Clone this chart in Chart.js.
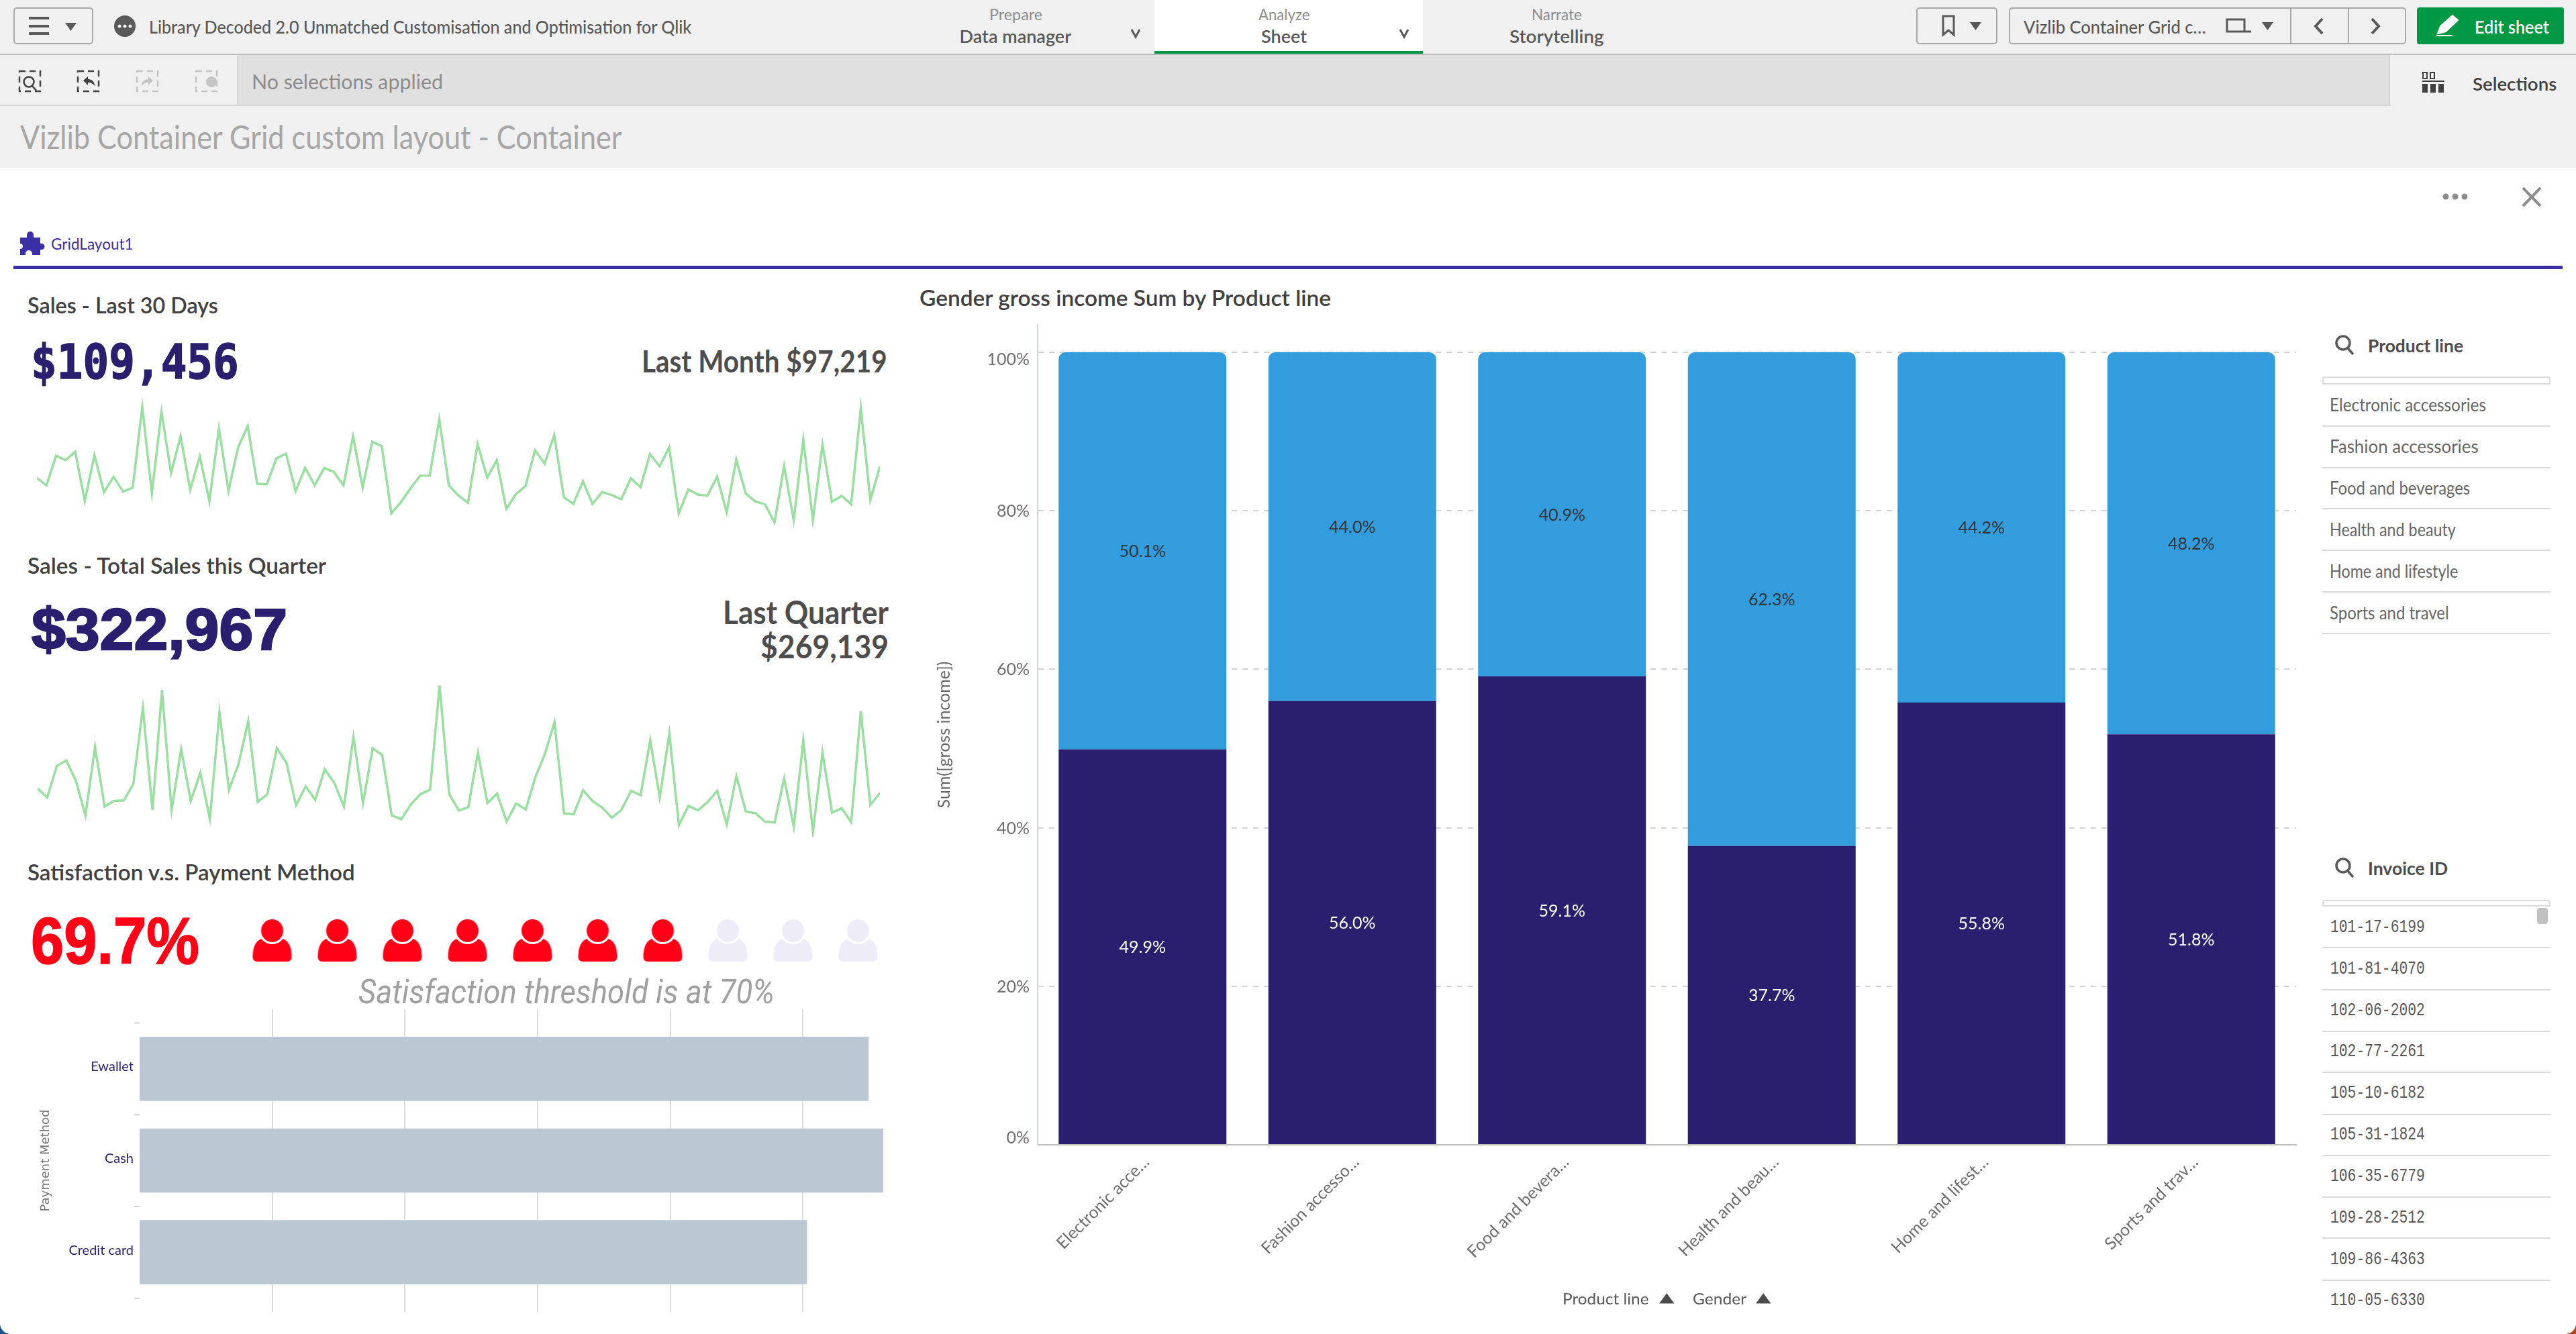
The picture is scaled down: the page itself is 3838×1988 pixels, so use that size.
<!DOCTYPE html>
<html>
<head>
<meta charset="utf-8">
<title>Vizlib Container Grid custom layout - Container</title>
<script src="https://cdn.jsdelivr.net/npm/chart.js@4"></script>
<style>
html, body { margin: 0; padding: 0; width: 3838px; height: 1988px; overflow: hidden; background: #fff; font-family: Lato, sans-serif; }
.box { position: absolute; box-sizing: border-box; }
.txt { position: absolute; white-space: nowrap; line-height: 1; transform-origin: 0 50%; }
canvas { position: absolute; display: block; }
svg { position: absolute; overflow: visible; }
</style>
</head>
<body>

<!-- app chrome -->
<div class="box" style="left:0;top:0;width:3838px;height:250px;background:#f0f0f0"></div>
<div class="box" style="left:0;top:80px;width:3838px;height:2px;background:#bdbdbd"></div>
<div class="box" style="left:1720px;top:0;width:400px;height:80px;background:#fff;border-bottom:4px solid #009845"></div>
<div class="box" style="left:353px;top:82px;width:3208px;height:75px;background:#e0e0e0;border-left:2px solid #d4d4d4;border-right:2px solid #d4d4d4"></div>
<div class="box" style="left:0;top:156px;width:3562px;height:2px;background:#d4d4d4"></div>
<div class="box" style="left:20px;top:11px;width:119px;height:55px;border:2px solid #a8a8a8;border-radius:5px"></div>
<div class="box" style="left:2855px;top:11px;width:121px;height:55px;border:2px solid #a8a8a8;border-radius:5px"></div>
<div class="box" style="left:2993px;top:11px;width:592px;height:55px;border:2px solid #a8a8a8;border-radius:5px"></div>
<div class="box" style="left:3412px;top:11px;width:2px;height:55px;background:#a8a8a8"></div>
<div class="box" style="left:3498px;top:11px;width:2px;height:55px;background:#a8a8a8"></div>
<div class="box" style="left:3601px;top:11px;width:219px;height:55px;background:#009845;border-radius:4px"></div>
<div class="box" style="left:20px;top:396px;width:3798px;height:5px;background:#3a2fa5"></div>

<!-- icons -->
<svg style="left:0;top:0" width="3838" height="400" fill="#595959">
  <rect x="43" y="25" width="30" height="4"/><rect x="43" y="37" width="30" height="4"/><rect x="43" y="48" width="30" height="4"/>
  <path d="M97 34h17l-8.500 12z"/>
  <circle cx="186" cy="39" r="16"/><circle cx="178" cy="39" r="2.500" fill="#f0f0f0"/><circle cx="186" cy="39" r="2.500" fill="#f0f0f0"/><circle cx="194" cy="39" r="2.500" fill="#f0f0f0"/>
  <path d="M1686 44l6 11 6-11M2086 44l6 11 6-11" fill="none" stroke="#595959" stroke-width="3"/>
  <path d="M2895 24h16v28l-8-7-8 7z" fill="none" stroke="#595959" stroke-width="3"/>
  <path d="M2935 33h17l-8.500 12zM3370 33h17l-8.500 12z"/>
  <path d="M3318 47V29h26v18zM3318 47h36" fill="none" stroke="#595959" stroke-width="3"/>
  <path d="M3460 28l-10 11 10 11M3534 28l10 11-10 11" fill="none" stroke="#595959" stroke-width="4"/>
  <path d="M3632 50l4-11 18-16 8 7-18 17zM3630 53h24" fill="#fff" stroke="#fff" stroke-width="2"/>
  <g fill="none" stroke="#404040" stroke-width="2.500" stroke-dasharray="9 6">
    <rect x="29" y="106" width="31" height="30"/><rect x="116" y="106" width="31" height="30"/>
  </g>
  <g fill="none" stroke="#c4c4c4" stroke-width="2.500" stroke-dasharray="9 6">
    <rect x="204" y="106" width="31" height="30"/><rect x="292" y="106" width="31" height="30"/>
  </g>
  <circle cx="43" cy="122" r="7.500" fill="none" stroke="#404040" stroke-width="2.500"/><path d="M48 128l6 7" stroke="#404040" stroke-width="2.500"/>
  <path d="M124 120l7-6v4c6 0 10 4 10 10-3-4-6-5-10-5v4z" fill="#404040"/>
  <path d="M228 120l-7-6v4c-6 0-10 4-10 10 3-4 6-5 10-5v4z" fill="#c4c4c4"/>
  <circle cx="315" cy="122" r="8" fill="#c4c4c4"/>
  <path d="M3610 108h6v9h-6zM3621 108h6v9h-6z" fill="none" stroke="#404040" stroke-width="2"/>
  <path d="M3609 120h33v2h-33zM3609 125h8v13h-8zM3621 125h8v13h-8zM3633 125h8v13h-8z" fill="#404040"/>
  <circle cx="3644" cy="293" r="4.500" fill="#8c8c8c"/><circle cx="3658" cy="293" r="4.500" fill="#8c8c8c"/><circle cx="3672" cy="293" r="4.500" fill="#8c8c8c"/>
  <path d="M3759 280l26 27M3785 280l-26 27" stroke="#8c8c8c" stroke-width="4"/>
  <path d="M30 354h10v-4a5 5 0 0 1 10 0v4h10v9h2a4.500 4.500 0 0 1 0 9h-2v8H48v-2a5 5 0 0 0-10 0v2h-8v-9a4 4 0 0 0 0-8z" fill="#3a2fa5"/>
</svg>
<svg style="left:0;top:0" width="3838" height="1988" fill="none" stroke="#595959" stroke-width="3.500">
  <circle cx="3491" cy="511" r="10"/><path d="M3498 519l8 9"/>
  <circle cx="3491" cy="1290" r="10"/><path d="M3498 1298l8 9"/>
</svg>

<!-- filter panes -->
<div class="box" style="left:3460px;top:561px;width:340px;height:12px;border:2px solid #dcdcdc;border-radius:4px 4px 0 0"></div>
<div class="box" style="left:3460px;top:1341px;width:340px;height:10px;border:2px solid #dcdcdc;border-radius:4px 4px 0 0"></div>
<div class="box" style="left:3780px;top:1353px;width:16px;height:24px;background:#c0c0c0;border-radius:4px"></div>

<!-- charts -->
<canvas id="salesMonthChart" style="left:55px;top:590px" width="1256" height="200"></canvas>
<canvas id="salesQuarterChart" style="left:56px;top:1013px" width="1255" height="234"></canvas>
<canvas id="pictogramChart" style="left:357px;top:1360px" width="970" height="84"></canvas>
<canvas id="paymentChart" style="left:40px;top:1504px" width="1290" height="451"></canvas>
<canvas id="genderChart" style="left:1380px;top:480px" width="2045" height="1480"></canvas>

<!-- window corners -->
<div class="box" style="left:0;top:1972px;width:16px;height:16px;background:radial-gradient(circle at 100% 0,#fff 15.500px,#1f5590 16.500px)"></div>
<div class="box" style="left:3822px;top:1972px;width:16px;height:16px;background:radial-gradient(circle at 0 0,#fff 15.500px,#b5451f 16.500px)"></div>

<script>
// ================================
// Data
// ================================

const salesMonthValues = [
    2330, 2000, 3320, 3130, 3500, 1300, 3350, 1700, 2380, 1720, 1900, 5500, 1650, 5300, 2550, 4200,
    1800, 3300, 1300, 4550, 1750, 3700, 4650, 2070, 2050, 3200, 3420, 1750, 2780, 2000, 2780, 2600,
    2000, 4200, 1900, 3950, 3750, 750, 1250, 1870, 2430, 2440, 4950, 2000, 1550, 1220, 3850, 2350,
    3120, 950, 1600, 1970, 3570, 2970, 4250, 1470, 1170, 2180, 1170, 1700, 1570, 1380, 2320, 1920,
    3400, 2850, 3700, 750, 1820, 1590, 1540, 2380, 800, 3150, 1630, 1280, 1150, 350, 2850, 450,
    4050, 450, 3820, 1270, 1530, 1150, 5450, 1350, 2840
];

const salesQuarterValues = [
    2150, 1750, 3150, 3400, 2500, 950, 4000, 1350, 1600, 1620, 2350, 5750, 1200, 6550, 1200, 3900,
    1600, 2850, 800, 5550, 2100, 3250, 5150, 1550, 1900, 3950, 3300, 1400, 2250, 1650, 3000, 2400,
    1350, 4450, 1500, 3950, 3650, 950, 780, 1450, 1900, 2100, 6750, 1900, 1170, 1320, 3750, 1500,
    1920, 680, 1480, 1220, 2650, 3700, 5100, 1050, 1000, 2070, 1580, 1300, 850, 1200, 2050, 1850,
    4300, 1750, 4600, 520, 1380, 1180, 1550, 2050, 550, 2700, 1120, 1050, 670, 640, 2600, 450,
    4300, 220, 3750, 1080, 1270, 650, 5600, 1420, 1950
];

const productLines = ["Electronic accessories", "Fashion accessories", "Food and beverages", "Health and beauty", "Home and lifestyle", "Sports and travel"];
const productTicks = ["Electronic acce…", "Fashion accesso…", "Food and bevera…", "Health and beau…", "Home and lifest…", "Sports and trav…"];
const femaleShare = [49.9, 56.0, 59.1, 37.7, 55.8, 51.8];
const maleShare = [50.1, 44.0, 40.9, 62.3, 44.2, 48.2];

const paymentMethods = ["Ewallet", "Cash", "Credit card"];
const paymentSales = [109900, 112100, 100600];
const paymentGrid = [20000, 40000, 60000, 80000, 100000];

const pictogramFilled = [1, 1, 1, 1, 1, 1, 1, 0, 0, 0];

const invoiceIds = ["101-17-6199", "101-81-4070", "102-06-2002", "102-77-2261", "105-10-6182", "105-31-1824", "106-35-6779", "109-28-2512", "109-86-4363", "110-05-6330"];

// ================================
// Page text
// text, x, center y, size, colour, weight, width, anchor, font
// ================================

const sans = "Lato, sans-serif";

const pageTexts = [
    ["Library Decoded 2.0 Unmatched Customisation and Optimisation for Qlik", 222, 39, 27, "#595959", 500, 808],
    ["Prepare", 1513, 21, 23, "#8c8c8c", 400, 79, "c"],
    ["Data manager", 1513, 53, 27, "#595959", 600, 167, "c"],
    ["Analyze", 1913, 21, 23, "#8c8c8c", 400, 76, "c"],
    ["Sheet", 1913, 53, 27, "#595959", 600, 68, "c"],
    ["Narrate", 2319, 21, 23, "#8c8c8c", 400, 75, "c"],
    ["Storytelling", 2319, 53, 27, "#595959", 600, 141, "c"],
    ["Vizlib Container Grid c…", 3015, 39, 27, "#595959", 500, 272],
    ["Edit sheet", 3687, 39, 27, "#ffffff", 600, 111],
    ["No selections applied", 375, 121, 31, "#8c8c8c", 400, 285],
    ["Selections", 3684, 124, 27, "#404040", 600, 125],
    ["Vizlib Container Grid custom layout - Container", 30, 204, 48, "#a6a6a6", 400, 897],
    ["GridLayout1", 76, 363, 24, "#3a2fa5", 400, 123],
    ["Sales - Last 30 Days", 41, 454, 33, "#404040", 600, 284],
    ["Sales - Total Sales this Quarter", 41, 842, 33, "#404040", 600, 445],
    ["Satisfaction v.s. Payment Method", 41, 1299, 33, "#404040", 600, 488],
    ["Gender gross income Sum by Product line", 1370, 443, 33, "#404040", 600, 613],
    ["$109,456", 46, 539, 72, "#2a1f6e", 700, 310, "l", "'DejaVu Sans Mono', monospace; -webkit-text-stroke:1.5px #2a1f6e"],
    ["Last Month $97,219", 1322, 538, 46, "#4d4d4d", 700, 366, "r"],
    ["$322,967", 47, 938, 88, "#2a1f6e", 700, 381, "l", "'Liberation Sans', sans-serif; -webkit-text-stroke:2.5px #2a1f6e"],
    ["Last Quarter", 1324, 912, 48, "#4d4d4d", 700, 247, "r"],
    ["$269,139", 1324, 963, 48, "#4d4d4d", 700, 191, "r"],
    ["69.7%", 46, 1402, 98, "#ff0017", 700, 251, "l", "'Liberation Sans', sans-serif; -webkit-text-stroke:1.5px #ff0017"],
    ["Satisfaction threshold is at 70%", 534, 1478, 50, "#a0a0a0", 400, 620, "l", "Roboto, sans-serif; font-style:italic"],
    ["Product line", 2328, 1935, 24, "#595959", 400, 129],
    ["▲", 2483, 1933, 20, "#4d4d4d", 400, 22, "c", "'DejaVu Sans', sans-serif"],
    ["Gender", 2522, 1935, 24, "#595959", 400, 80],
    ["▲", 2627, 1933, 20, "#4d4d4d", 400, 22, "c", "'DejaVu Sans', sans-serif"],
    ["Product line", 3528, 514, 27, "#4d4d4d", 700, 142],
    ["Invoice ID", 3528, 1293, 27, "#4d4d4d", 700, 119]
];

const productRowsY = [603, 665, 727, 789, 851, 913];
const productRowsW = [233, 222, 209, 188, 191, 178];
const invoiceRowsY = [1382, 1444, 1506, 1567, 1629, 1691, 1753, 1815, 1877, 1938];

productLines.forEach((name, i) => {
    pageTexts.push([name, 3471, productRowsY[i], 26, "#666666", 400, productRowsW[i]]);
});

invoiceIds.forEach((id, i) => {
    pageTexts.push([id, 3472, invoiceRowsY[i], 28, "#595959", 400, 141, "l", "'Liberation Mono', monospace"]);
});

pageTexts.forEach(([text, x, y, size, color, weight, width, anchor, font]) => {

    const el = document.createElement("div");

    el.className = "txt";
    el.textContent = text;
    el.style.cssText = `top:${y}px;font-size:${size}px;color:${color};font-weight:${weight};font-family:${font || sans}`;

    document.body.appendChild(el);

    // squeeze every string to the width measured on the reference
    const left = anchor === "r" ? x - width : anchor === "c" ? x - width / 2 : x;

    el.style.left = left + "px";
    el.style.transform = `translateY(-50%) scaleX(${width / el.offsetWidth})`;

});

// row rules of the two filter panes
[634, 696, 757, 819, 881, 943, 1411, 1474, 1536, 1597, 1660, 1721, 1783, 1844, 1907].forEach(y => {

    const rule = document.createElement("div");

    rule.className = "box";
    rule.style.cssText = `left:3460px;top:${y}px;width:340px;height:2px;background:#d9d9d9`;

    document.body.appendChild(rule);

});

// ================================
// Chart defaults
// ================================

Chart.defaults.animation = false;
Chart.defaults.responsive = false;
Chart.defaults.font.family = sans;
Chart.defaults.layout.autoPadding = false;
Chart.defaults.plugins.legend.display = false;
Chart.defaults.plugins.tooltip.enabled = false;

// ================================
// Sparklines
// ================================

function sparkline(id, values, top) {

    new Chart(document.getElementById(id), {
        type: "line",
        data: {
            labels: values.map((_, i) => i),
            datasets: [
                {
                    data: values,
                    borderColor: "#98dfa0",
                    borderWidth: 3.5,
                    pointRadius: 0,
                    tension: 0,
                    clip: false
                }
            ]
        },
        options: {
            scales: {
                x: { display: false, offset: false },
                y: { display: false, min: 0, max: top }
            }
        }
    });

}

sparkline("salesMonthChart", salesMonthValues, 6000);
sparkline("salesQuarterChart", salesQuarterValues, 7000);

// ================================
// Pictogram
// ================================

function personIcon(color) {

    const icon = document.createElement("canvas");

    icon.width = 60;
    icon.height = 64;

    const c = icon.getContext("2d");

    c.fillStyle = color;
    c.beginPath();
    c.moveTo(1, 56);
    c.quadraticCurveTo(1, 34, 14, 29);
    c.lineTo(46, 29);
    c.quadraticCurveTo(59, 34, 59, 56);
    c.quadraticCurveTo(59, 63, 52, 63);
    c.lineTo(8, 63);
    c.quadraticCurveTo(1, 63, 1, 56);
    c.fill();

    c.globalCompositeOperation = "destination-out";
    c.beginPath();
    c.ellipse(30, 17, 20, 20, 0, 0, Math.PI * 2);
    c.fill();

    c.globalCompositeOperation = "source-over";
    c.beginPath();
    c.ellipse(30, 17, 16.5, 17, 0, 0, Math.PI * 2);
    c.fill();

    return icon;

}

const redPerson = personIcon("#ff0017");
const palePerson = personIcon("#eeedf7");

new Chart(document.getElementById("pictogramChart"), {
    type: "line",
    data: {
        labels: pictogramFilled.map((_, i) => i + 1),
        datasets: [
            {
                data: pictogramFilled.map(() => 1),
                showLine: false,
                clip: false,
                pointRadius: 30,
                pointStyle: pictogramFilled.map(on => on ? redPerson : palePerson)
            }
        ]
    },
    options: {
        scales: {
            x: { display: false, offset: true },
            y: { display: false, min: 0, max: 2 }
        }
    }
});

// ================================
// Sales by payment method
// ================================

const paymentGridPlugin = {
    id: "paymentGrid",
    beforeDatasetsDraw(chart) {

        const { ctx, scales } = chart;

        ctx.save();
        ctx.strokeStyle = "#dddddd";
        ctx.lineWidth = 2;

        paymentGrid.forEach(v => {

            const x = Math.round(scales.x.getPixelForValue(v));

            ctx.beginPath();
            ctx.moveTo(x, 0);
            ctx.lineTo(x, chart.height);
            ctx.stroke();

        });

        ctx.restore();

    }
};

new Chart(document.getElementById("paymentChart"), {
    type: "bar",
    data: {
        labels: paymentMethods,
        datasets: [
            {
                data: paymentSales,
                backgroundColor: "#bbc8d4",
                barPercentage: 0.7,
                categoryPercentage: 1
            }
        ]
    },
    options: {
        indexAxis: "y",
        layout: { padding: { top: 20.5, bottom: 20.5, right: 10 } },
        scales: {
            x: { display: false, min: 0, max: 112500 },
            y: {
                afterFit(scale) { scale.width = 168; },
                border: { display: false },
                grid: { drawOnChartArea: false, tickLength: 8, tickColor: "#999999" },
                ticks: { color: "#2a1f6e", font: { size: 20 }, padding: 1, labelOffset: -3 },
                title: {
                    display: true,
                    text: "Payment Method",
                    color: "#777777",
                    font: { size: 18, family: "'DejaVu Sans', sans-serif" },
                    padding: { top: 18, bottom: 0 }
                }
            }
        }
    },
    plugins: [paymentGridPlugin]
});

// ================================
// Gender gross income by product line
// ================================

const valueLabelColors = ["#ffffff", "#333333"];

const genderLabelPlugin = {
    id: "genderLabels",
    afterDatasetsDraw(chart) {

        const { ctx, scales } = chart;

        ctx.save();
        ctx.font = "25px " + sans;
        ctx.textBaseline = "middle";

        // percentage inside every bar segment
        ctx.textAlign = "center";

        chart.data.datasets.forEach((dataset, d) => {

            ctx.fillStyle = valueLabelColors[d];

            chart.getDatasetMeta(d).data.forEach((bar, i) => {

                ctx.fillText(dataset.data[i].toFixed(1) + "%", bar.x, (bar.y + bar.base) / 2 + 1);

            });

        });

        // the end ticks sit inside the axis range
        ctx.textAlign = "right";
        ctx.fillStyle = "#6e6e6e";

        const last = scales.y.ticks.length - 1;

        scales.y.ticks.forEach((tick, i) => {

            const shift = i === 0 ? -10 : i === last ? 11 : 1;

            ctx.fillText(tick.label, scales.y.left + scales.y.width - 12, scales.y.getPixelForValue(tick.value) + shift);

        });

        ctx.restore();

    }
};

new Chart(document.getElementById("genderChart"), {
    type: "bar",
    data: {
        labels: productLines,
        datasets: [
            {
                label: "Female",
                data: femaleShare,
                backgroundColor: "#2a1f6e",
                barPercentage: 0.8,
                categoryPercentage: 1
            },
            {
                label: "Male",
                data: maleShare,
                backgroundColor: "#329cdd",
                barPercentage: 0.8,
                categoryPercentage: 1,
                borderRadius: { topLeft: 10, topRight: 10, bottomLeft: 0, bottomRight: 0 }
            }
        ]
    },
    options: {
        layout: { padding: { top: 4, right: 4 } },
        scales: {
            x: {
                stacked: true,
                afterFit(scale) { scale.height = 254; },
                border: { color: "#bdbdbd", width: 2 },
                grid: { display: false },
                ticks: {
                    color: "#6e6e6e",
                    font: { size: 25 },
                    autoSkip: false,
                    minRotation: 45,
                    maxRotation: 45,
                    labelOffset: 6,
                    callback: (value, i) => productTicks[i]
                }
            },
            y: {
                stacked: true,
                min: 0,
                max: 103.47,
                afterFit(scale) { scale.width = 166; },
                border: { color: "#cfd8dc", width: 2, dash: [8, 8] },
                grid: { color: "#d4d4d4", lineWidth: 2, drawTicks: false },
                ticks: {
                    display: false,
                    stepSize: 20,
                    includeBounds: false,
                    callback: v => v + "%"
                },
                title: {
                    display: true,
                    text: "Sum([gross income])",
                    color: "#666666",
                    font: { size: 25 },
                    padding: { top: 12, bottom: 0 }
                }
            }
        }
    },
    plugins: [genderLabelPlugin]
});
</script>
</body>
</html>
